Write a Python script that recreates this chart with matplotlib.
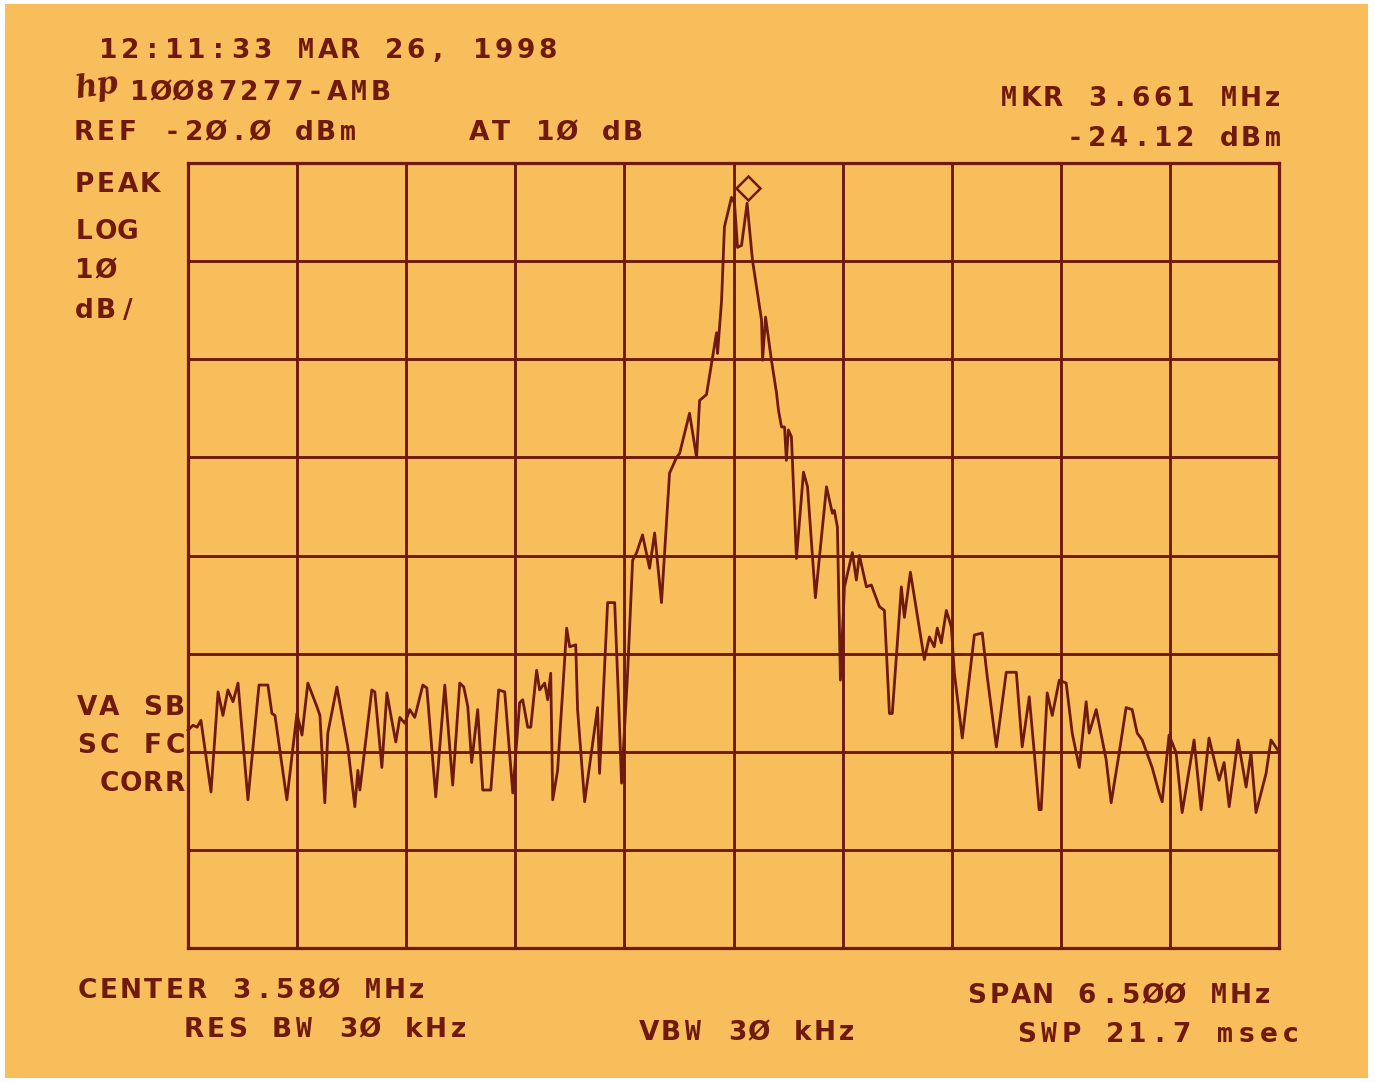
"""
HP spectrum analyzer plot (photo of a hard-copy print): 3.58 MHz carrier,
6.5 MHz span, 10 dB/div log scale, REF -20 dBm.
"""
import matplotlib
matplotlib.use("Agg")
import matplotlib.pyplot as plt
from matplotlib.transforms import offset_copy
from matplotlib.patches import Rectangle

W, H = 1375, 1082

# --------------------------------------------------------------------------- #
# Instrument settings (from the annotations)
# --------------------------------------------------------------------------- #
CENTER_MHZ = 3.58
SPAN_MHZ = 6.5
REF_DBM = -20.0
DB_PER_DIV = 10
N_XDIV, N_YDIV = 10, 8
MKR_MHZ, MKR_DBM = 3.661, -24.12

# --------------------------------------------------------------------------- #
# Trace (MHz, dBm), split by region
# --------------------------------------------------------------------------- #
floor_left_mhz = [0.33, 0.342, 0.360, 0.384, 0.407, 0.467, 0.509, 0.538, 0.568, 0.598,
                  0.628, 0.687, 0.753, 0.806, 0.830, 0.848, 0.919, 0.979, 1.009, 1.044,
                  1.098, 1.116, 1.145, 1.163, 1.217, 1.282, 1.324, 1.342, 1.354, 1.425,
                  1.443, 1.485, 1.515, 1.544, 1.568, 1.592, 1.622]
floor_left_dbm = [-77.8, -77.6, -77.3, -77.5, -76.8, -84.1, -73.9, -76.3, -73.7, -74.9,
                  -73.0, -84.9, -73.2, -73.2, -76.1, -76.3, -84.9, -76.1, -78.3, -73.0,
                  -75.4, -76.3, -85.2, -78.1, -73.4, -79.5, -85.6, -81.9, -83.9, -73.7,
                  -73.9, -81.6, -74.0, -76.8, -79.0, -76.5, -77.1]

floor_mid_mhz = [1.651, 1.681, 1.729, 1.753, 1.806, 1.860, 1.907, 1.949, 1.973, 1.997,
                 2.020, 2.056, 2.086, 2.134, 2.181, 2.217, 2.265, 2.306, 2.324, 2.354,
                 2.372, 2.407, 2.425, 2.455, 2.473, 2.491, 2.503, 2.532, 2.586, 2.604,
                 2.640, 2.651, 2.693, 2.770, 2.782]
floor_mid_dbm = [-75.7, -76.5, -73.2, -73.5, -84.6, -73.2, -83.4, -73.0, -73.4, -75.4,
                 -81.1, -75.7, -83.9, -83.9, -73.7, -73.9, -84.2, -75.0, -74.7, -77.5,
                 -77.5, -71.7, -73.7, -73.0, -74.7, -72.0, -84.9, -81.9, -67.4, -69.3,
                 -69.1, -75.7, -85.1, -75.5, -82.2]

skirt_left_mhz = [2.830, 2.872, 2.895, 2.913, 2.949, 2.979, 3.003, 3.038, 3.080, 3.110,
                  3.151, 3.199, 3.241]
skirt_left_dbm = [-64.8, -64.8, -74.7, -83.2, -72.0, -60.5, -59.7, -57.9, -61.3, -57.7,
                  -64.8, -51.6, -50.0]

peak_mhz = [3.259, 3.318, 3.360, 3.378, 3.419, 3.455, 3.479, 3.485, 3.509, 3.526,
            3.568, 3.586, 3.604, 3.628, 3.661, 3.693, 3.747, 3.753, 3.771, 3.806,
            3.836, 3.848, 3.866, 3.884, 3.895, 3.907, 3.925, 3.955, 3.997, 4.021,
            4.068, 4.134, 4.169, 4.181, 4.199, 4.217]
peak_dbm = [-49.6, -45.5, -50.0, -44.2, -43.6, -39.8, -37.3, -39.4, -34.0, -26.5,
            -23.5, -24.1, -28.6, -28.4, -24.1, -29.9, -36.0, -40.1, -35.7, -40.1,
            -43.4, -45.2, -46.9, -46.9, -50.3, -47.2, -47.9, -60.3, -51.5, -53.0,
            -64.3, -53.0, -55.7, -55.4, -57.1, -72.7]

skirt_right_mhz = [4.241, 4.288, 4.312, 4.330, 4.372, 4.401, 4.449, 4.479, 4.509, 4.526,
                   4.580, 4.598, 4.634, 4.717, 4.747, 4.776, 4.794, 4.818, 4.848, 4.878,
                   4.896, 4.943, 5.015, 5.062, 5.092, 5.146, 5.205, 5.265, 5.300, 5.342,
                   5.372, 5.401, 5.413, 5.449, 5.479, 5.521, 5.562, 5.598, 5.640, 5.681,
                   5.699, 5.741, 5.800, 5.830, 5.878, 5.919, 5.955, 5.985, 6.015, 6.074,
                   6.116, 6.134, 6.175, 6.217, 6.253, 6.324, 6.366, 6.413, 6.473, 6.503,
                   6.533, 6.586, 6.634, 6.663, 6.693, 6.753, 6.782, 6.83]
skirt_right_dbm = [-63.2, -59.7, -62.5, -60.0, -63.2, -63.0, -65.2, -65.6, -76.1, -76.1,
                   -63.2, -66.3, -61.7, -70.6, -68.3, -69.3, -67.4, -68.9, -65.6, -67.3,
                   -72.0, -78.6, -68.1, -67.9, -72.4, -79.5, -71.9, -71.9, -79.5, -74.4,
                   -80.1, -85.9, -85.9, -74.0, -76.3, -72.7, -73.0, -78.1, -81.6, -74.9,
                   -78.1, -75.7, -80.8, -85.2, -80.1, -75.5, -75.7, -78.1, -78.8, -81.6,
                   -84.2, -85.1, -78.3, -80.1, -86.2, -78.8, -85.9, -78.6, -82.9, -81.1,
                   -85.6, -78.8, -83.6, -80.1, -86.2, -82.2, -78.8, -80.0]

# annotation text: (left px, centre px, string)
labels = [
    (97, 48, "12:11:33 MAR 26, 1998"),
    (128, 90, "1ØØ87277-AMB"),
    (73, 130, "REF -2Ø.Ø dBm"),
    (468, 130, "AT 1Ø dB"),
    (998, 96, "MKR 3.661 MHz"),
    (1064, 136, "-24.12 dBm"),
    (73, 182, "PEAK"),
    (73, 229, "LOG"),
    (73, 268, "1Ø"),
    (73, 308, "dB/"),
    (76, 705, "VA SB"),
    (76, 743, "SC FC"),
    (98, 781, "CORR"),
    (76, 988, "CENTER 3.58Ø MHz"),
    (183, 1027, "RES BW 3Ø kHz"),
    (638, 1030, "VBW 3Ø kHz"),
    (966, 993, "SPAN 6.5ØØ MHz"),
    (1016, 1032, "SWP 21.7 msec"),
]

PAPER = "#F9BE5C"
INK = "#6E1A0E"
PITCH = 22      # px per character cell on the print
FONT_PT = 19.0
WIDE = set("MWmw")   # these come from the mono face so they stay in their cell


def hp_text(fig, x, y, s, pitch=PITCH):
    """Fixed-pitch text, one glyph per cell, like the plotter font."""
    for i, ch in enumerate(s):
        if ch == " ":
            continue
        family = "DejaVu Sans Mono" if ch in WIDE else "DejaVu Sans"
        fig.text((x + i * pitch + pitch / 2) / W, 1 - (y + 10) / H, ch,
                 ha="center", va="baseline", color=INK, fontsize=FONT_PT,
                 family=family, fontweight="bold")


fig = plt.figure(figsize=(W / 100, H / 100), dpi=100, facecolor="white")
fig.patches.append(Rectangle((5 / W, 4 / H), 1363 / W, 1074 / H,
                             transform=fig.transFigure, facecolor=PAPER,
                             edgecolor="none", zorder=-10))

ax = fig.add_axes([188 / W, 1 - 948 / H, 1091 / W, 785 / H])
ax.set_facecolor("none")
ax.set_zorder(1)

f_start = CENTER_MHZ - SPAN_MHZ / 2
f_stop = CENTER_MHZ + SPAN_MHZ / 2
bottom = REF_DBM - N_YDIV * DB_PER_DIV
ax.set_xlim(f_start, f_stop)
ax.set_ylim(bottom, REF_DBM)
ax.set_xticks([f_start + i * SPAN_MHZ / N_XDIV for i in range(N_XDIV + 1)])
ax.set_yticks([bottom + i * DB_PER_DIV for i in range(N_YDIV + 1)])
ax.tick_params(length=0, labelbottom=False, labelleft=False)
ax.grid(True, color=INK, linewidth=2.1)
for sp in ax.spines.values():
    sp.set_color(INK)
    sp.set_linewidth(2.3)

freq = floor_left_mhz + floor_mid_mhz + skirt_left_mhz + peak_mhz + skirt_right_mhz
level = floor_left_dbm + floor_mid_dbm + skirt_left_dbm + peak_dbm + skirt_right_dbm
ax.plot(freq, level, color=INK, linewidth=2.0, solid_joinstyle="round", clip_on=False)

# marker diamond sits just above the marked point
mk_tr = offset_copy(ax.transData, fig=fig, x=1, y=15, units="dots")
ax.plot([MKR_MHZ], [MKR_DBM], marker="D", markersize=12.5, markerfacecolor="none",
        markeredgecolor=INK, markeredgewidth=1.8, transform=mk_tr, clip_on=False)

for x, y, s in labels:
    hp_text(fig, x, y, s)

# hp logo
fig.text(74 / W, 1 - 98 / H, "hp", color=INK, fontsize=22, fontstyle="italic",
         family="DejaVu Serif", fontweight="bold", rotation=8)

fig.savefig("out.png", dpi=100, facecolor="white")
